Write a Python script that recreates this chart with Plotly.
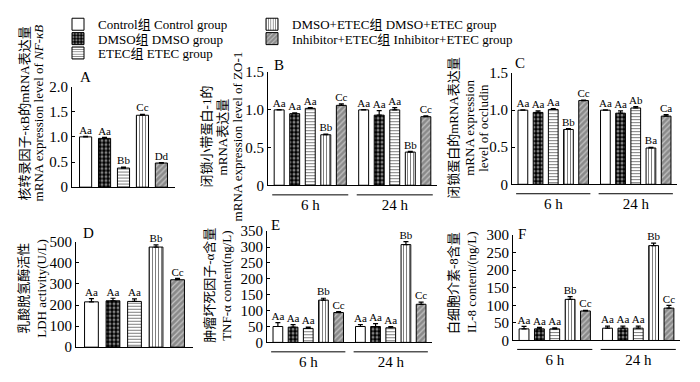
import plotly.graph_objects as go

# ---------------- data ----------------
groups = ["Control组 Control group", "DMSO组 DMSO group", "ETEC组 ETEC group",
          "DMSO+ETEC组 DMSO+ETEC group", "Inhibitor+ETEC组 Inhibitor+ETEC group"]
times = ["6 h", "24 h"]

A_vals = [1.00, 0.97, 0.38, 1.43, 0.48]
A_err = [0.01, 0.02, 0.02, 0.02, 0.01]
A_lbl = ["Aa", "Aa", "Bb", "Cc", "Dd"]

B_6h = [1.00, 0.95, 1.02, 0.67, 1.06]
B_24h = [1.00, 0.93, 1.00, 0.44, 0.91]
B_err_6h = [0.005, 0.01, 0.01, 0.01, 0.02]
B_err_24h = [0.005, 0.06, 0.03, 0.01, 0.01]
B_lbl_6h = ["Aa", "Aa", "Aa", "Bb", "Cc"]
B_lbl_24h = ["Aa", "Aa", "Aa", "Bb", "Cc"]

C_6h = [1.00, 0.97, 1.01, 0.74, 1.13]
C_24h = [1.00, 0.96, 1.03, 0.49, 0.92]
C_err_6h = [0.005, 0.02, 0.01, 0.01, 0.005]
C_err_24h = [0.005, 0.03, 0.02, 0.01, 0.02]
C_lbl_6h = ["Aa", "Aa", "Aa", "Bb", "Cc"]
C_lbl_24h = ["Aa", "Aa", "Ab", "Ba", "Ca"]

D_vals = [215, 220, 217, 475, 320]
D_err = [15, 12, 12, 10, 6]
D_lbl = ["Aa", "Aa", "Aa", "Bb", "Cc"]

E_6h = [50, 48, 44, 133, 94]
E_24h = [50, 50, 46, 308, 120]
E_err_6h = [12, 8, 4, 6, 3]
E_err_24h = [6, 9, 4, 9, 7]
E_lbl_6h = ["Aa", "Aa", "Aa", "Bb", "Cc"]
E_lbl_24h = ["Aa", "Aa", "Aa", "Bb", "Cc"]

F_6h = [33, 33, 33, 117, 84]
F_24h = [35, 35, 35, 270, 92]
F_err_6h = [7, 4, 3, 8, 2]
F_err_24h = [6, 6, 6, 7, 8]
F_lbl_6h = ["Aa", "Aa", "Aa", "Bb", "Cc"]
F_lbl_24h = ["Aa", "Aa", "Aa", "Bb", "Cc"]

ticks_A = [0, 0.5, 1.0, 1.5, 2.0]
ticks_A_txt = ["0", "0.5", "1.0", "1.5", "2.0"]
ticks_BC = [0, 0.5, 1.0, 1.5]
ticks_BC_txt = ["0", "0.5", "1.0", "1.5"]
ticks_D = [0, 100, 200, 300, 400, 500]
ticks_E = [0, 50, 100, 150, 200, 250, 300, 350]
ticks_F = [0, 50, 100, 150, 200, 250, 300]

titles = {
    "A": ["核转录因子-κB的mRNA表达量", "mRNA expression level of <i>NF-κB</i>"],
    "B": ["闭锁小带蛋白-1的", "mRNA表达量", "mRNA expression level of ZO-1"],
    "C": ["闭锁蛋白的mRNA表达量", "mRNA expression", "level of occludin"],
    "D": ["乳酸脱氢酶活性", "LDH activity(U/L)"],
    "E": ["肿瘤坏死因子-α含量", "TNF-α content(ng/L)"],
    "F": ["白细胞介素-8含量", "IL-8 content/(ng/L)"],
}

# ---------------- styles ----------------
FONT = "Liberation Serif, Times New Roman, Noto Sans CJK SC, serif"
W, H = 700, 382
patterns = [
    None,
    dict(shape=".", fgcolor="white", bgcolor="black", size=4, solidity=0.45),
    dict(shape="-", fgcolor="black", bgcolor="white", size=3, solidity=0.35),
    dict(shape="|", fgcolor="black", bgcolor="white", size=3, solidity=0.35),
    dict(shape="/", fgcolor="white", bgcolor="#8a8a8a", size=4, solidity=0.3),
]
legend_names = ["legend", "legend2", "legend3", "legend4", "legend5"]
legend_pos = [(58, 17), (58, 32), (58, 47), (252, 17), (252, 32)]

fig = go.Figure()

def px_x(a, b):
    return [a / W, b / W]

def px_y(top, bottom):
    return [1 - bottom / H, 1 - top / H]

panels = {
    "A": dict(ax="", x=px_x(72, 175), y=px_y(82, 187), rng=[0, 2.0],
              tv=ticks_A, tt=ticks_A_txt, cats=[""],
              vals=[[v] for v in A_vals], errs=[[e] for e in A_err], lbls=[[l] for l in A_lbl]),
    "B": dict(ax="2", x=px_x(268, 437), y=px_y(67, 185), rng=[0, 1.5],
              tv=ticks_BC, tt=ticks_BC_txt, cats=times,
              vals=[list(p) for p in zip(B_6h, B_24h)], errs=[list(p) for p in zip(B_err_6h, B_err_24h)],
              lbls=[list(p) for p in zip(B_lbl_6h, B_lbl_24h)]),
    "C": dict(ax="3", x=px_x(512, 677), y=px_y(68, 184), rng=[0, 1.5],
              tv=ticks_BC, tt=ticks_BC_txt, cats=times,
              vals=[list(p) for p in zip(C_6h, C_24h)], errs=[list(p) for p in zip(C_err_6h, C_err_24h)],
              lbls=[list(p) for p in zip(C_lbl_6h, C_lbl_24h)]),
    "D": dict(ax="4", x=px_x(76, 193), y=px_y(244, 354), rng=[0, 500],
              tv=ticks_D, tt=[str(t) for t in ticks_D], cats=[""],
              vals=[[v] for v in D_vals], errs=[[e] for e in D_err], lbls=[[l] for l in D_lbl]),
    "E": dict(ax="5", x=px_x(267, 432), y=px_y(233, 349), rng=[0, 350],
              tv=ticks_E, tt=[str(t) for t in ticks_E], cats=times,
              vals=[list(p) for p in zip(E_6h, E_24h)], errs=[list(p) for p in zip(E_err_6h, E_err_24h)],
              lbls=[list(p) for p in zip(E_lbl_6h, E_lbl_24h)]),
    "F": dict(ax="6", x=px_x(513, 680), y=px_y(237, 347), rng=[0, 300],
              tv=ticks_F, tt=[str(t) for t in ticks_F], cats=times,
              vals=[list(p) for p in zip(F_6h, F_24h)], errs=[list(p) for p in zip(F_err_6h, F_err_24h)],
              lbls=[list(p) for p in zip(F_lbl_6h, F_lbl_24h)]),
}

# centre (x of each line, common y centre) of the rotated axis titles, in pixels
title_pos = {"A": ([24, 38], 110), "B": ([206, 222, 237], 134), "C": ([454, 470, 484], 125),
             "D": ([24, 42], 293), "E": ([210, 227], 290), "F": ([454, 472], 287)}
letter_pos = {"A": (85, 72), "B": (279, 59), "C": (520, 57),
              "D": (88, 235), "E": (275, 226), "F": (522, 236)}

layout_axes = {}
shapes = []
annotations = []
for key, p in panels.items():
    ax = p["ax"]
    xname, yname = "x" + ax, "y" + ax
    for gi, g in enumerate(groups):
        first = key == "A"
        marker = dict(color="white", line=dict(color="black", width=1))
        if patterns[gi] is not None:
            marker["color"] = patterns[gi]["bgcolor"]
            marker["pattern"] = patterns[gi]
        fig.add_trace(go.Bar(
            x=p["cats"], y=p["vals"][gi], name=g, xaxis=xname, yaxis=yname,
            offsetgroup=str(gi), legendgroup=g, showlegend=first,
            legend=legend_names[gi], marker=marker,
            error_y=dict(type="data", array=p["errs"][gi], arrayminus=[0] * len(p["cats"]),
                         color="black", thickness=1.2, width=2.5),
            hoverinfo="skip",
        ))
        fig.add_trace(go.Scatter(
            x=p["cats"], y=[v + e for v, e in zip(p["vals"][gi], p["errs"][gi])],
            text=p["lbls"][gi], mode="text", textposition="top center",
            textfont=dict(family=FONT, size=11, color="black"),
            xaxis=xname, yaxis=yname, offsetgroup=str(gi), showlegend=False,
            cliponaxis=False, hoverinfo="skip",
        ))
    xa = "xaxis" + ax
    ya = "yaxis" + ax
    grouped = len(p["cats"]) > 1
    layout_axes[xa] = dict(domain=p["x"], anchor=yname, type="category",
                           showline=True, linecolor="black", linewidth=1,
                           ticks="", showgrid=False, zeroline=False,
                           showticklabels=grouped, ticklabelstandoff=6,
                           tickfont=dict(family=FONT, size=15, color="black"),
                           range=[-0.5, len(p["cats"]) - 0.5], fixedrange=True)
    layout_axes[ya] = dict(domain=p["y"], anchor=xname, range=p["rng"],
                           showline=True, linecolor="black", linewidth=1,
                           ticks="inside", ticklen=3, tickcolor="black",
                           tickvals=p["tv"], ticktext=p["tt"], showgrid=False,
                           zeroline=False, tickfont=dict(family=FONT, size=15, color="black"),
                           fixedrange=True)
    if grouped:
        for ci in range(len(p["cats"])):
            shapes.append(dict(type="line", xref=xname, yref=yname + " domain",
                               x0=ci - 0.45, x1=ci + 0.45, y0=-0.085, y1=-0.085,
                               line=dict(color="black", width=1)))
    xs, ty = title_pos[key]
    for line, tx in zip(titles[key], xs):
        annotations.append(dict(text=line, x=tx / W, y=1 - ty / H, xref="paper", yref="paper",
                                textangle=-90, showarrow=False, xanchor="center", yanchor="middle",
                                font=dict(family=FONT, size=13, color="black")))
    lx, ly = letter_pos[key]
    annotations.append(dict(text=key, x=lx / W, y=1 - ly / H, xref="paper", yref="paper",
                            showarrow=False, xanchor="center", yanchor="middle",
                            font=dict(family=FONT, size=15, color="black")))

legends = {}
for name, (lx, ly) in zip(legend_names, legend_pos):
    legends[name] = dict(x=lx / W, y=1 - ly / H, xanchor="left", yanchor="middle",
                         font=dict(family=FONT, size=13, color="black"),
                         bgcolor="rgba(0,0,0,0)", borderwidth=0)

fig.update_layout(
    width=W, height=H, margin=dict(l=0, r=0, t=0, b=0),
    paper_bgcolor="white", plot_bgcolor="white",
    barmode="group", bargap=0.08, bargroupgap=0.36, scattermode="group",
    font=dict(family=FONT, size=13, color="black"),
    shapes=shapes, annotations=annotations,
    **legends,
    **layout_axes,
)

fig.write_html(
    "out.html",
    config={"displayModeBar": False},
    post_script="document.body.style.margin='0';document.body.style.padding='0';",
)
